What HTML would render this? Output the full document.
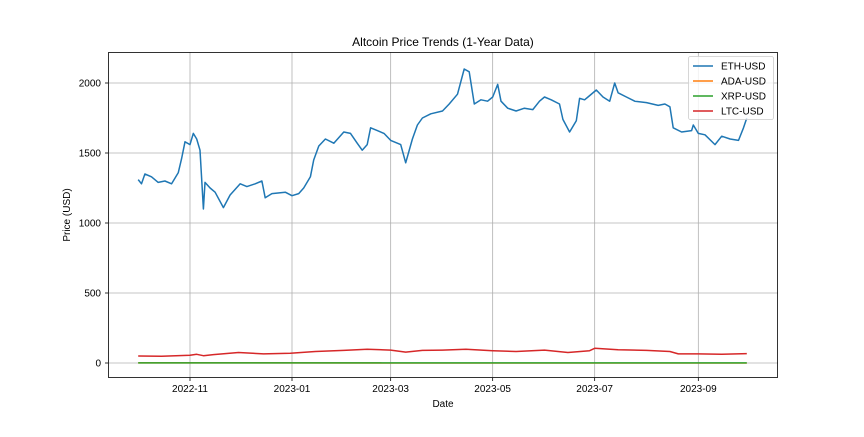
<!DOCTYPE html>
<html><head><meta charset="utf-8"><style>
body{margin:0;background:#fff;}
svg text{font-family:"Liberation Sans",sans-serif;}
</style></head><body>
<svg id="chart" width="864" height="432" viewBox="0 0 864 432">
<rect x="0" y="0" width="864" height="432" fill="#fff"/>
<g id="grid"></g>
<g id="series"></g>
<rect x="108.5" y="52.5" width="669" height="325" fill="none" stroke="#000" stroke-width="0.8"/>
<g id="axes"></g>
<text x="443" y="46" text-anchor="middle" font-size="12">Altcoin Price Trends (1-Year Data)</text>
<text x="443" y="407" text-anchor="middle" font-size="10">Date</text>
<text x="70" y="215" text-anchor="middle" font-size="10" transform="rotate(-90 70 215)">Price (USD)</text>
<g id="legend">
<rect x="688.5" y="56.5" width="85" height="63" rx="2" fill="#fff" fill-opacity="0.8" stroke="#ccc" stroke-width="0.8"/>
</g>
</svg>
<script>
const ethDates=["2022-10-01","2022-10-03","2022-10-05","2022-10-09","2022-10-13","2022-10-17","2022-10-21","2022-10-25","2022-10-27","2022-10-29","2022-11-01","2022-11-03","2022-11-05","2022-11-07","2022-11-09","2022-11-10","2022-11-13","2022-11-16","2022-11-21","2022-11-25","2022-12-01","2022-12-05","2022-12-10","2022-12-14","2022-12-16","2022-12-20","2022-12-28","2023-01-01","2023-01-05","2023-01-08","2023-01-12","2023-01-14","2023-01-17","2023-01-21","2023-01-26","2023-02-01","2023-02-05","2023-02-09","2023-02-12","2023-02-15","2023-02-17","2023-02-21","2023-02-25","2023-03-01","2023-03-07","2023-03-10","2023-03-14","2023-03-17","2023-03-20","2023-03-25","2023-04-01","2023-04-05","2023-04-10","2023-04-14","2023-04-17","2023-04-20","2023-04-24","2023-04-28","2023-05-01","2023-05-04","2023-05-06","2023-05-10","2023-05-15","2023-05-20","2023-05-25","2023-05-29","2023-06-01","2023-06-05","2023-06-10","2023-06-12","2023-06-16","2023-06-20","2023-06-22","2023-06-25","2023-06-27","2023-07-02","2023-07-06","2023-07-10","2023-07-13","2023-07-15","2023-07-20","2023-07-25","2023-08-01","2023-08-08","2023-08-12","2023-08-15","2023-08-17","2023-08-22","2023-08-28","2023-08-29","2023-09-01","2023-09-05","2023-09-11","2023-09-15","2023-09-20","2023-09-25","2023-09-28","2023-09-30"];
const ethValues=[1310,1280,1350,1330,1290,1300,1280,1360,1460,1580,1560,1640,1600,1520,1100,1290,1250,1220,1110,1200,1280,1260,1280,1300,1180,1210,1220,1195,1210,1250,1330,1450,1550,1600,1570,1650,1640,1570,1520,1560,1680,1660,1640,1590,1560,1430,1600,1700,1750,1780,1800,1850,1920,2100,2080,1850,1880,1870,1900,1990,1870,1820,1800,1820,1810,1870,1900,1880,1850,1740,1650,1730,1890,1880,1900,1950,1900,1870,2000,1930,1900,1870,1860,1840,1850,1830,1680,1650,1660,1700,1640,1630,1560,1620,1600,1590,1680,1750];
const ltcDates=["2022-10-01","2022-10-15","2022-11-01","2022-11-05","2022-11-09","2022-11-15","2022-11-30","2022-12-15","2022-12-31","2023-01-15","2023-02-01","2023-02-15","2023-03-01","2023-03-10","2023-03-20","2023-04-01","2023-04-15","2023-05-01","2023-05-15","2023-06-01","2023-06-15","2023-06-28","2023-07-01","2023-07-15","2023-08-01","2023-08-15","2023-08-20","2023-09-01","2023-09-15","2023-09-30"];
const ltcValues=[50,48,55,62,52,60,75,65,70,82,90,98,92,78,90,92,98,88,82,92,75,88,105,95,90,82,65,65,62,67];
const adaDates=["2022-10-01","2023-09-30"];
const adaValues=[0.4,0.26];
const xrpDates=["2022-10-01","2023-09-30"];
const xrpValues=[0.47,0.52];
const yTicks=[0,500,1000,1500,2000];
const xTicks=["2022-11","2023-01","2023-03","2023-05","2023-07","2023-09"];

const NS="http://www.w3.org/2000/svg";
const d0=Date.UTC(2022,10,1), d1=Date.UTC(2023,0,1);
const pxPerMs=(292-190)/(d1-d0);
function xs(s){const p=s.split("-").map(Number);const t=Date.UTC(p[0],p[1]-1,p[2]||1);return 190+(t-d0)*pxPerMs;}
function ys(v){return 363-v*0.14;}
const grid=document.getElementById("grid"),axes=document.getElementById("axes"),series=document.getElementById("series");
function mk(tag,attrs,parent){const e=document.createElementNS(NS,tag);for(const k in attrs)e.setAttribute(k,attrs[k]);parent.appendChild(e);return e;}
yTicks.forEach(v=>{const y=ys(v);
 const g=mk("line",{x1:108,x2:778,y1:y,y2:y,stroke:"#b0b0b0","stroke-width":0.8},grid);
 
 
 mk("line",{x1:105,x2:108,y1:y,y2:y,stroke:"#000","stroke-width":0.8},axes);
 const t=mk("text",{x:101,y:y+3.5,"text-anchor":"end","font-size":10},axes);t.textContent=v;
 
 
});
xTicks.forEach(s=>{const x=xs(s);
 const g=mk("line",{x1:x,x2:x,y1:52,y2:378,stroke:"#b0b0b0","stroke-width":0.8},grid);
 
 
 mk("line",{x1:x,x2:x,y1:378,y2:381,stroke:"#000","stroke-width":0.8},axes);
 const t=mk("text",{x:x,y:392,"text-anchor":"middle","font-size":10},axes);t.textContent=s;
 
 
});
function line(dates,vals,color,name){
 const pts=dates.map((d,i)=>xs(d).toFixed(1)+","+ys(vals[i]).toFixed(1)).join(" ");
 const p=mk("polyline",{points:pts,fill:"none",stroke:color,"stroke-width":1.5,"stroke-linejoin":"round"},series);
 
 
}
line(ethDates,ethValues,"#1f77b4","eth-usd-line");
line(adaDates,adaValues,"#ff7f0e","ada-usd-line");
line(xrpDates,xrpValues,"#2ca02c","xrp-usd-line");
line(ltcDates,ltcValues,"#d62728","ltc-usd-line");
const leg=document.getElementById("legend");
[["ETH-USD","#1f77b4"],["ADA-USD","#ff7f0e"],["XRP-USD","#2ca02c"],["LTC-USD","#d62728"]].forEach((e,i)=>{
 const y=66+i*15;
 const l=mk("line",{x1:693,x2:713,y1:y,y2:y,stroke:e[1],"stroke-width":1.5},leg);
 
 
 const t=mk("text",{x:721,y:y+3.5,"font-size":10},leg);t.textContent=e[0];
 
 
});
</script>
</body></html>
